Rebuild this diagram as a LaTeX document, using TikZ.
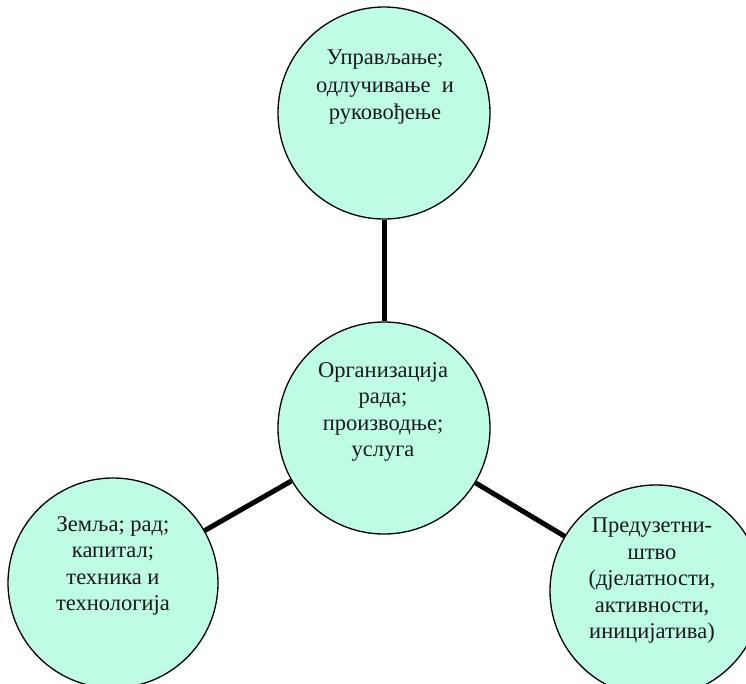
\documentclass[tikz,border=0pt]{standalone}
\usepackage{fontspec}
\setmainfont{Liberation Serif}
\definecolor{mint}{RGB}{190,252,228}
\begin{document}
\begin{tikzpicture}[x=1pt,y=-1pt,
  bubble/.style={circle,draw=black,line width=1.3pt,fill=mint,inner sep=0pt},
  link/.style={line width=5pt},
  txt/.style={align=center,inner sep=0pt,anchor=north,text=black!90,font=\fontsize{22.5}{26.5}\selectfont}]
\useasboundingbox (0,0) rectangle (746,684);
\clip (0,0) rectangle (746,684);
\node[bubble,minimum size=212pt] (top) at (384,113) {};
\node[bubble,minimum size=212pt] (mid) at (384,428) {};
\node[bubble,minimum size=210pt] (left) at (113,583) {};
\node[bubble,minimum size=212pt] (right) at (656,591) {};
\draw[link] (top) -- (mid);
\draw[link] (mid) -- (left);
\draw[link] (mid) -- (right);
\node[txt,font=\fontsize{22.5}{27.5}\selectfont] (ttop) at (385,50) {Управљање;\\одлучивање\ \ и\\руковођење};
\node[txt] (tmid) at (383,362) {Организација\\рада;\\производње;\\услуга};
\node[txt] (tleft) at (113,516) {Земља; рад;\\капитал;\\техника и\\технологија};
\node[txt] (tright) at (652,518) {Предузетни-\\штво\\(дјелатности,\\активности,\\иницијатива)};
\end{tikzpicture}
\end{document}
